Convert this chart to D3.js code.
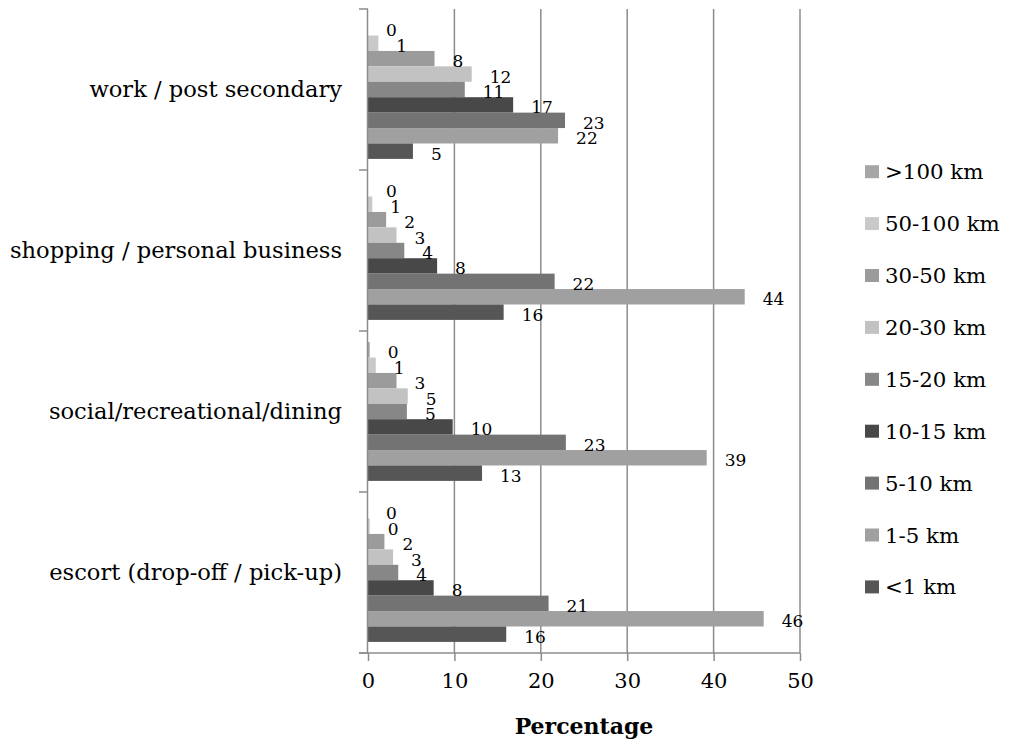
<!DOCTYPE html>
<html><head><meta charset="utf-8">
<script src="https://cdn.jsdelivr.net/npm/d3@7"></script>
<style>body{margin:0;background:#fff}svg{display:block}text{font-family:"DejaVu Serif",serif;fill:#000}</style>
</head><body><svg id="c" width="1014" height="744"></svg>
<script>
const categories = ["work / post secondary","shopping / personal business","social/recreational/dining","escort (drop-off / pick-up)"];
const series = [">100 km","50-100 km","30-50 km","20-30 km","15-20 km","10-15 km","5-10 km","1-5 km","<1 km"];
const colors = ["#a6a6a6","#c9c9c9","#9b9b9b","#c2c2c2","#878787","#484848","#737373","#a0a0a0","#565656"];
const work     = [0, 1.2, 7.7, 12.0, 11.2, 16.8, 22.8, 22.0, 5.2];
const shopping = [0, 0.5, 2.1, 3.3, 4.2, 8.0, 21.6, 43.6, 15.7];
const social   = [0.2, 0.9, 3.3, 4.6, 4.5, 9.8, 22.9, 39.2, 13.2];
const escort   = [0, 0.2, 1.9, 2.9, 3.5, 7.6, 20.9, 45.8, 16.0];
const xTicks = [0,10,20,30,40,50];
const valuesByCat = [work, shopping, social, escort];

const svg = d3.select("#c");
const axisColor = "#8c8c8c";
const x = d3.scaleLinear().domain([0,50]).range([368,800]);
const y0 = d3.scaleBand().domain(categories).range([9,653]).paddingInner(0).paddingOuter(0);
const y1 = d3.scaleBand().domain(series).range([0,y0.bandwidth()]).paddingInner(0).paddingOuter(0.72);

// gridlines
svg.append("g").selectAll("line").data(xTicks.slice(1)).join("line")
  .attr("x1",d=>x(d)).attr("x2",d=>x(d)).attr("y1",9).attr("y2",653)
  .attr("stroke",axisColor).attr("stroke-width",1.5);

// bars
const g = svg.append("g");
categories.forEach((c,ci)=>{
  const vals = valuesByCat[ci];
  const gg = g.append("g").attr("transform",`translate(0,${y0(c)})`);
  gg.selectAll("rect").data(series).join("rect")
    .attr("x",x(0)).attr("y",s=>y1(s)).attr("height",y1.bandwidth())
    .attr("width",(s,i)=>x(vals[i])-x(0)).attr("fill",(s,i)=>colors[i]);
  gg.selectAll("text").data(series).join("text")
    .attr("x",(s,i)=>x(vals[i])+18).attr("y",s=>y1(s)+y1.bandwidth()/2+8.5)
    .attr("font-size",17).text((s,i)=>Math.round(vals[i]));
});

// x axis
const xAxis = d3.axisBottom(x).tickValues(xTicks).tickSize(8).tickPadding(12).tickFormat(d3.format("d"));
const xa = svg.append("g").attr("transform","translate(0,653)").call(xAxis);
xa.select(".domain").attr("d","M359,0H800").attr("stroke",axisColor).attr("stroke-width",1.5);
xa.selectAll(".tick line").attr("stroke",axisColor).attr("stroke-width",1.5);
xa.selectAll(".tick text").attr("font-size",21).attr("font-family","DejaVu Serif").attr("fill","#000");

// y axis
svg.append("line").attr("x1",367.5).attr("x2",367.5).attr("y1",9).attr("y2",653).attr("stroke",axisColor).attr("stroke-width",1.5);
const yTicks = categories.map(c=>y0(c)).concat([653]);
svg.append("g").selectAll("line").data(yTicks).join("line")
  .attr("x1",359).attr("x2",368).attr("y1",d=>d).attr("y2",d=>d).attr("stroke",axisColor).attr("stroke-width",1.5);
svg.append("g").selectAll("text").data(categories).join("text")
  .attr("x",342).attr("y",c=>y0(c)+y0.bandwidth()/2+7).attr("text-anchor","end")
  .attr("font-size",22.6).text(c=>c);

svg.append("text").attr("x",584).attr("y",734).attr("text-anchor","middle")
  .attr("font-size",22).attr("font-weight","bold").text("Percentage");

// legend
const lg = svg.append("g").selectAll("g").data(series).join("g")
  .attr("transform",(d,i)=>`translate(865,${171.7+i*51.9})`);
lg.append("rect").attr("x",0).attr("y",-6.5).attr("width",14).attr("height",13).attr("fill",(d,i)=>colors[i]);
lg.append("text").attr("x",20).attr("y",7.5).attr("font-size",21.3).text(d=>d);
</script></body></html>
